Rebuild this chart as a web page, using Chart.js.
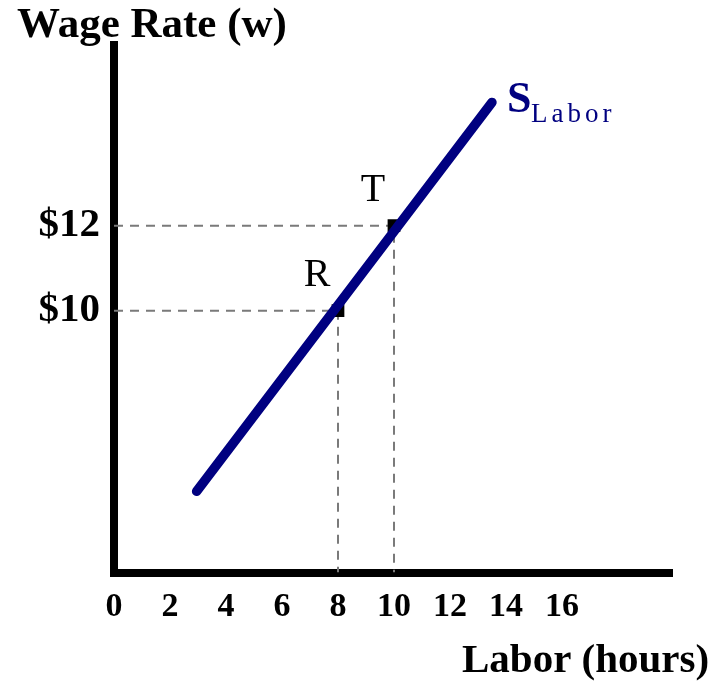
<!DOCTYPE html>
<html>
<head>
<meta charset="utf-8">
<title>Labor supply</title>
<script src="https://cdn.jsdelivr.net/npm/chart.js@4"></script>
<style>
    html, body { margin: 0; padding: 0; background: #ffffff; }
    #wrap { width: 714px; height: 682px; position: relative; }
</style>
</head>
<body>
<div id="wrap"><canvas id="laborchart"></canvas></div>
<script>
"use strict";

/* chart data */
var xTicks = [0, 2, 4, 6, 8, 10, 12, 14, 16];
var yTicks = [10, 12];
var supplyLabor = [2.95, 13.5];
var supplyWage = [5.75, 14.9];
var pointNames = ['R', 'T'];
var pointLabor = [8, 10];
var pointWage = [10, 12];

var navy = '#000080';
var serif = "'Liberation Serif', 'Times New Roman', serif";
var yMin = 3.84, yMax = 16.25;

/* guide lines: from the y axis to the point, then down to the x axis */
var guideSets = pointLabor.map(function (l, i) {
    return {
        type: 'line',
        data: [{ x: 0, y: pointWage[i] }, { x: l, y: pointWage[i] }, { x: l, y: yMin }],
        borderColor: '#7a7a7a',
        borderWidth: 2,
        borderDash: [9, 7],
        pointRadius: 0,
        fill: false,
        tension: 0,
        order: 2
    };
});

/* text plugin: titles, point names and the curve label */
var textPlugin = {
    id: 'textPlugin',
    afterDatasetsDraw: function (chart) {
        var ctx = chart.ctx;
        var xs = chart.scales.x, ys = chart.scales.y;
        ctx.save();
        ctx.textBaseline = 'alphabetic';

        ctx.fillStyle = '#000';
        ctx.textAlign = 'left';
        ctx.font = 'bold 43px ' + serif;
        ctx.fillText('Wage Rate (w)', 17, 37);
        ctx.font = 'bold 41px ' + serif;
        ctx.fillText('Labor (hours)', 462, 672);

        ctx.textAlign = 'center';
        ctx.font = '40px ' + serif;
        pointNames.forEach(function (n, i) {
            var px = xs.getPixelForValue(pointLabor[i]);
            var py = ys.getPixelForValue(pointWage[i]);
            ctx.fillText(n, px - 21, py - 25);
        });

        var ex = xs.getPixelForValue(supplyLabor[1]);
        var ey = ys.getPixelForValue(supplyWage[1]);
        ctx.fillStyle = navy;
        ctx.textAlign = 'left';
        ctx.font = 'bold 44px ' + serif;
        ctx.fillText('S', ex + 15, ey + 10);
        ctx.font = '27px ' + serif;
        ctx.letterSpacing = '4px';
        ctx.fillText('Labor', ex + 39, ey + 20);
        ctx.restore();
    }
};

var laborchart = document.getElementById('laborchart').getContext('2d');

var laborConfig = {
    data: {
        datasets: [{
            type: 'line',
            label: 'S Labor',
            data: supplyLabor.map(function (l, i) { return { x: l, y: supplyWage[i] }; }),
            borderColor: navy,
            borderWidth: 9.5,
            borderCapStyle: 'round',
            pointRadius: 0,
            fill: false,
            tension: 0,
            order: 0
        }, {
            type: 'scatter',
            label: 'points',
            data: pointLabor.map(function (l, i) { return { x: l, y: pointWage[i] }; }),
            pointStyle: 'rect',
            pointRadius: 9,
            backgroundColor: '#000',
            borderColor: '#000',
            borderWidth: 0,
            order: 1
        }].concat(guideSets)
    },
    options: {
        animation: false,
        responsive: true,
        maintainAspectRatio: false,
        layout: {
            padding: { left: 0, top: 45, right: 42, bottom: 0 }
        },
        plugins: {
            legend: { display: false },
            tooltip: { enabled: false }
        },
        scales: {
            x: {
                type: 'linear',
                min: 0,
                max: 19.93,
                afterBuildTicks: function (scale) {
                    scale.ticks = xTicks.map(function (v) { return { value: v }; });
                },
                afterFit: function (scale) { scale.height = 109.5; },
                grid: { display: false, drawTicks: false },
                border: { display: true, color: '#000', width: 8 },
                ticks: {
                    padding: 14,
                    color: '#000',
                    font: { family: serif, size: 34, weight: 'bold' },
                    callback: function (v) { return String(v); }
                }
            },
            y: {
                type: 'linear',
                min: yMin,
                max: yMax,
                afterBuildTicks: function (scale) {
                    scale.ticks = yTicks.map(function (v) { return { value: v }; });
                },
                afterFit: function (scale) { scale.width = 114; },
                grid: { display: false, drawTicks: false },
                border: { display: true, color: '#000', width: 8 },
                ticks: {
                    padding: 14,
                    color: '#000',
                    font: { family: serif, size: 41, weight: 'bold' },
                    callback: function (v) { return '$' + v; }
                }
            }
        }
    },
    plugins: [textPlugin]
};
var laborChart = new Chart(laborchart, laborConfig);
</script>
</body>
</html>
